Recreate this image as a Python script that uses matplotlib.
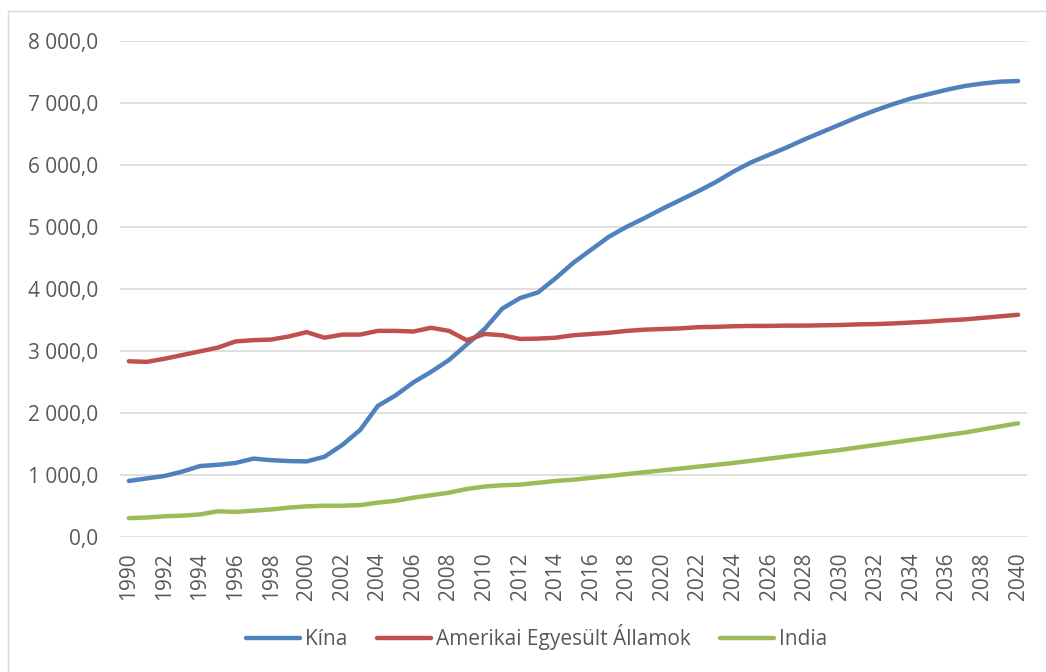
import matplotlib
matplotlib.use("Agg")
import matplotlib.pyplot as plt
from matplotlib.ticker import FuncFormatter, FixedLocator
from matplotlib.patches import Rectangle

years = list(range(1990, 2041))

china = [900, 940, 980, 1050, 1140, 1160, 1190, 1260, 1235, 1220,
         1215, 1290, 1480, 1720, 2110, 2280, 2490, 2660, 2850, 3100,
         3350, 3680, 3850, 3940, 4170, 4420, 4630, 4840, 5000, 5140,
         5290, 5430, 5570, 5720, 5890, 6040, 6160, 6280, 6410, 6530,
         6650, 6770, 6880, 6980, 7070, 7140, 7210, 7270, 7310, 7340,
         7350]

usa = [2830, 2820, 2870, 2930, 2990, 3050, 3150, 3170, 3180, 3230,
       3300, 3210, 3260, 3260, 3320, 3320, 3310, 3370, 3320, 3170,
       3270, 3250, 3190, 3195, 3210, 3250, 3270, 3290, 3320, 3340,
       3350, 3360, 3380, 3385, 3395, 3400, 3400, 3405, 3405, 3410,
       3415, 3425, 3430, 3440, 3455, 3470, 3490, 3505, 3530, 3555,
       3580]

india = [300, 310, 330, 340, 360, 410, 400, 420, 440, 470,
         490, 500, 500, 510, 550, 580, 630, 670, 710, 770,
         810, 830, 840, 870, 900, 920, 950, 980, 1010, 1040,
         1070, 1100, 1130, 1160, 1190, 1225, 1260, 1295, 1330, 1365,
         1400, 1440, 1480, 1520, 1560, 1600, 1640, 1680, 1730, 1780,
         1830]

series_names = ["Kína", "Amerikai Egyesült Államok", "India"]
series_colors = ["#4F81BD", "#C0504D", "#9BBB59"]

y_ticks = list(range(0, 8001, 1000))
x_ticks = list(range(1990, 2041, 2))

text_color = "#595959"
plt.rcParams["font.family"] = ["Open Sans", "DejaVu Sans"]

fig = plt.figure(figsize=(10.46, 6.72), dpi=100)
ax = fig.add_axes([0.1147, 0.2013, 0.8671, 0.7381])

# light frame around the chart area
fig.patches.append(Rectangle((8 / 1046, -0.02), 1.05, 1 - 11 / 672 + 0.02,
                             transform=fig.transFigure, fill=False,
                             edgecolor="#D9D9D9", linewidth=1.0))

for vals, name, col in zip([china, usa, india], series_names, series_colors):
    ax.plot(years, vals, color=col, linewidth=3.2, label=name,
            solid_capstyle="round", solid_joinstyle="round", zorder=3)

ax.set_xlim(1989.5, 2040.5)
ax.set_ylim(0, 8000)
ax.yaxis.set_major_locator(FixedLocator(y_ticks))
ax.xaxis.set_major_locator(FixedLocator(x_ticks))


def hu_fmt(v, pos):
    s = f"{v:,.1f}"
    return s.replace(",", " ").replace(".", ",")


ax.yaxis.set_major_formatter(FuncFormatter(hu_fmt))
ax.set_xticklabels([str(y) for y in x_ticks], rotation=90)

ax.grid(axis="y", color="#D9D9D9", linewidth=1.2, zorder=0)
ax.grid(axis="x", visible=False)
for sp in ax.spines.values():
    sp.set_visible(False)
ax.tick_params(axis="both", length=0, labelsize=15, colors=text_color)
ax.tick_params(axis="y", pad=16)
ax.tick_params(axis="x", pad=11)

leg = fig.legend(loc="center", bbox_to_anchor=(0.513, 1 - 637 / 672), ncol=3,
                 frameon=False, fontsize=15, handlelength=2.6,
                 handletextpad=0.25, columnspacing=1.4)
for t in leg.get_texts():
    t.set_color(text_color)

fig.savefig("out.png", dpi=100)
